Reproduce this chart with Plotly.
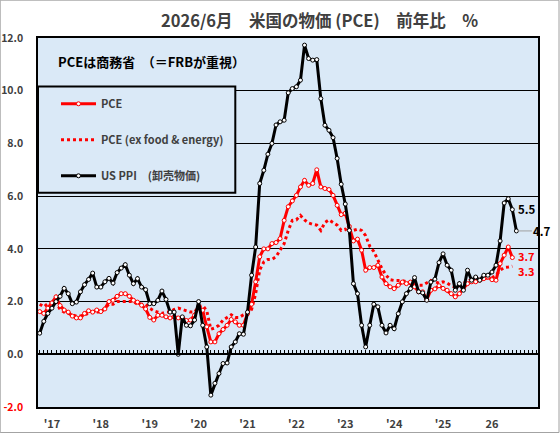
import plotly.graph_objects as go
import pandas as pd

# ---------------- data ----------------
months = [str(p) for p in pd.period_range("2016-10", "2026-07", freq="M")]

ppi = [0.80, 1.25, 1.55, 1.75, 2.00, 2.20, 2.50, 2.30, 1.92, 1.98,
       2.37, 2.64, 2.84, 3.08, 2.55, 2.55, 2.75, 2.88, 2.70, 3.10,
       3.27, 3.40, 3.00, 2.68, 2.87, 2.55, 2.45, 1.92, 1.92, 2.05,
       2.40, 2.08, 1.60, 1.60, 0.00, 1.42, 1.10, 1.08, 1.30, 2.00,
       1.10, 0.28, -1.55, -1.10, -0.73, -0.35, -0.33, 0.28, 0.47, 0.78,
       0.76, 1.60, 3.00, 4.07, 6.48, 6.98, 7.59, 8.00, 8.70, 8.82,
       8.88, 9.92, 10.08, 10.15, 10.40, 11.73, 11.22, 11.16, 11.18, 9.70,
       8.69, 8.50, 8.22, 7.43, 6.45, 5.70, 4.70, 2.68, 2.30, 1.10,
       0.28, 1.10, 1.90, 1.80, 1.10, 0.81, 1.10, 0.97, 1.54, 1.99,
       2.30, 2.49, 2.91, 2.37, 2.33, 2.05, 2.74, 2.85, 3.48, 3.81,
       3.38, 3.19, 2.43, 2.68, 2.43, 3.19, 2.81, 2.93, 2.81, 3.00,
       3.00, 3.12, 3.38, 4.30, 5.74, 5.90, 5.49, 4.68]

pce = [1.62, 1.55, 1.75, 1.95, 2.18, 1.85, 1.68, 1.60, 1.45, 1.38,
       1.38, 1.55, 1.65, 1.60, 1.68, 1.62, 1.72, 2.00, 2.05, 2.20,
       2.30, 2.30, 2.20, 2.05, 1.98, 1.86, 1.72, 1.40, 1.30, 1.48,
       1.48, 1.42, 1.38, 1.42, 1.38, 1.39, 1.28, 1.30, 1.48, 1.80,
       1.67, 1.04, 0.47, 0.47, 0.78, 0.94, 1.10, 1.32, 1.23, 1.10,
       1.10, 1.54, 1.90, 2.75, 3.70, 4.00, 4.00, 4.20, 4.24, 4.39,
       5.08, 5.60, 5.82, 6.03, 6.35, 6.60, 6.41, 6.48, 7.00, 6.35,
       6.29, 6.25, 6.03, 5.65, 5.30, 5.35, 4.85, 4.30, 4.37, 3.95,
       3.19, 3.29, 3.29, 3.38, 2.93, 2.68, 2.56, 2.49, 2.62, 2.74,
       2.68, 2.74, 2.56, 2.37, 2.37, 2.07, 2.43, 2.48, 2.60, 2.50,
       2.43, 2.30, 2.18, 2.30, 2.50, 2.68, 2.75, 2.75, 2.81, 2.87,
       2.93, 2.83, 2.81, 3.44, 3.76, 4.07, 3.67]

core = [1.90, 1.80, 1.92, 1.95, 2.00, 1.70, 1.60, 1.55, 1.50, 1.45,
        1.45, 1.50, 1.55, 1.60, 1.60, 1.60, 1.75, 1.90, 1.90, 2.00,
        2.00, 2.00, 2.00, 2.00, 1.90, 1.90, 1.90, 1.75, 1.65, 1.60,
        1.55, 1.60, 1.60, 1.70, 1.75, 1.70, 1.65, 1.60, 1.60, 1.80,
        1.85, 1.65, 0.95, 1.00, 1.10, 1.30, 1.40, 1.50, 1.40, 1.40,
        1.50, 1.55, 1.70, 2.30, 3.20, 3.50, 3.60, 3.60, 3.70, 3.95,
        4.20, 4.70, 5.08, 5.10, 5.27, 5.10, 4.98, 4.93, 4.90, 4.70,
        5.00, 5.10, 5.00, 4.90, 4.70, 4.75, 4.60, 4.70, 4.75, 4.70,
        4.50, 4.10, 3.90, 3.57, 3.25, 3.00, 2.83, 2.80, 2.80, 2.80,
        2.75, 2.68, 2.68, 2.62, 2.62, 2.70, 2.80, 2.75, 2.70, 2.75,
        2.70, 2.60, 2.55, 2.60, 2.70, 2.75, 2.85, 2.85, 2.80, 2.85,
        2.90, 2.90, 3.00, 3.19, 3.29, 3.31, 3.34]

year_labels = ["'17", "'18", "'19", "'20", "'21", "'22", "'23", "'24", "'25", "26"]
y_ticks = [-2, 0, 2, 4, 6, 8, 10, 12]

# ---------------- derived positions ----------------
x_ppi = list(range(len(ppi)))
x_pce = list(range(len(pce)))
tick_pos = [i for i, m in enumerate(months) if m.endswith("-01")]
x_range = [-0.42, len(months) + 4.3]

FONT = "Noto Sans CJK JP"
GREY = "#404040"
RED = "#ff0000"
BG = "#dae9f7"

y_text = []
for v in y_ticks:
    s = f"{v:.1f}"
    y_text.append(f"<span style='color:{RED}'>{s}</span>" if v < 0 else s)

fig = go.Figure()

fig.add_trace(go.Scatter(
    x=x_pce, y=core, name="PCE (ex food &amp; energy)", mode="lines",
    line=dict(color=RED, width=3, dash="dot"),
    legendgroup="b", legendrank=2, hoverinfo="skip"))
fig.add_trace(go.Scatter(
    x=x_pce, y=pce, name="PCE", mode="lines+markers",
    line=dict(color=RED, width=3),
    marker=dict(size=4, color="white", line=dict(color=RED, width=1)),
    legendgroup="a", legendrank=1, hoverinfo="skip"))
fig.add_trace(go.Scatter(
    x=x_ppi, y=ppi, name="US PPI　(卸売物価)", mode="lines+markers",
    line=dict(color="black", width=3),
    marker=dict(size=4, color="white", line=dict(color="black", width=1)),
    legendgroup="c", legendrank=3, hoverinfo="skip"))
# carrier for the zero-line axis with monthly ticks
fig.add_trace(go.Scatter(
    x=[x_ppi[0]], y=[0], xaxis="x2", yaxis="y", mode="markers",
    marker=dict(opacity=0), showlegend=False, hoverinfo="skip"))

LBL = 11
annos = [
    dict(text="2026/6月　米国の物価 (PCE)　前年比　%", xref="paper", yref="paper",
         x=0.563, y=1.0496, xanchor="center", yanchor="middle", showarrow=False,
         font=dict(family=FONT, size=16.5, color=GREY, weight="bold")),
    dict(text="PCEは商務省　（＝FRBが重視）", xref="paper", yref="paper",
         x=0.035, y=0.9365, xanchor="left", yanchor="middle", showarrow=False,
         font=dict(family=FONT, size=13, color="black", weight="bold")),
    dict(text=f"{ppi[-2]:.1f}", x=x_ppi[-2], y=ppi[-2], xshift=15, yshift=1, showarrow=False,
         font=dict(family=FONT, size=LBL + 0.5, color="black", weight="bold")),
    dict(text=f"{ppi[-1]:.1f}", x=x_ppi[-1], y=ppi[-1], showarrow=True, ax=26, ay=0,
         arrowhead=0, arrowwidth=1, arrowcolor="#a0a0a0", standoff=1,
         font=dict(family=FONT, size=LBL + 0.5, color="black", weight="bold")),
    dict(text=f"{pce[-1]:.1f}", x=x_pce[-1], y=pce[-1], xshift=14, yshift=2, showarrow=False,
         font=dict(family=FONT, size=LBL, color=RED, weight="bold")),
    dict(text=f"{core[-1]:.1f}", x=x_pce[-1], y=core[-1], xshift=14, yshift=-5,
         showarrow=False, font=dict(family=FONT, size=LBL, color=RED, weight="bold")),
]

shapes = [
    # legend box
    dict(type="rect", xref="paper", yref="paper", x0=0, x1=0.3946, y0=0.5804, y1=0.8687,
         line=dict(color="black", width=2), fillcolor=BG, layer="above"),
    # outer frame of the picture
    dict(type="rect", xref="paper", yref="paper", x0=-0.0756, x1=1.042, y0=-0.0692, y1=1.1025,
         line=dict(color="#a0a0a0", width=1), fillcolor="rgba(0,0,0,0)", layer="below"),
]

fig.update_layout(
    width=560, height=433,
    margin=dict(l=38, r=22, t=38, b=26, autoexpand=False),
    paper_bgcolor="white", plot_bgcolor=BG,
    font=dict(family=FONT, color=GREY),
    showlegend=True,
    legend=dict(x=0.036, y=0.861, xanchor="left", yanchor="top",
                bgcolor="rgba(0,0,0,0)", borderwidth=0,
                traceorder="grouped", tracegroupgap=17, itemwidth=35,
                font=dict(family=FONT, size=11, color=GREY, weight="bold")),
    xaxis=dict(range=x_range, tickmode="array", tickvals=tick_pos, ticktext=year_labels,
               ticks="", showgrid=False, zeroline=False, showline=True, mirror=True,
               linecolor="black", linewidth=1.5, ticklabelstandoff=6, automargin=False,
               tickfont=dict(family=FONT, size=11, color=GREY, weight="bold")),
    xaxis2=dict(range=x_range, overlaying="x", anchor="free",
                position=(0 - y_ticks[0]) / (y_ticks[-1] - y_ticks[0]),
                showline=True, linecolor="black", linewidth=2, automargin=False,
                ticks="inside", tickmode="linear", tick0=0, dtick=1,
                ticklen=3, tickwidth=1, tickcolor="black",
                showticklabels=False, showgrid=False, zeroline=False),
    yaxis=dict(range=[y_ticks[0], y_ticks[-1]], tickmode="array", tickvals=y_ticks,
               ticktext=y_text, ticks="", showgrid=True, gridcolor="black", gridwidth=1,
               zeroline=False, showline=True, mirror=True, linecolor="black", linewidth=1.5,
               ticklabelstandoff=11, automargin=False,
               tickfont=dict(family=FONT, size=10.5, color=GREY, weight="bold")),
    annotations=annos,
    shapes=shapes,
)

fig.write_html("out.html", config={"displayModeBar": False},
               post_script="document.body.style.margin='0px';document.body.style.overflow='hidden';")
